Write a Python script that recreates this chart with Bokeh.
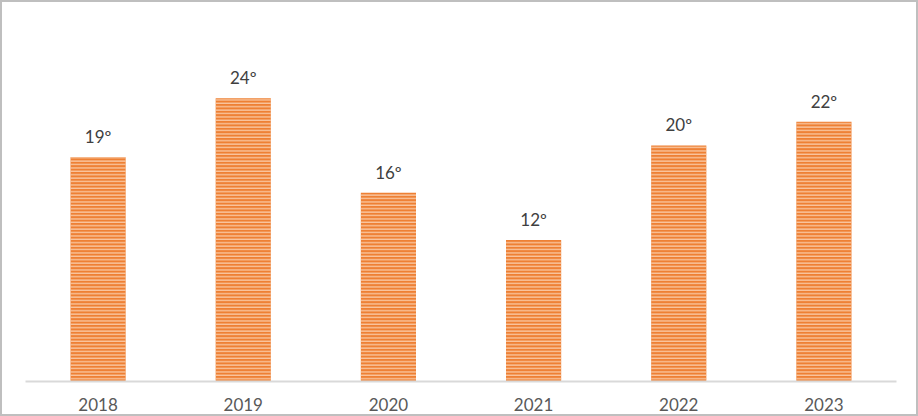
from bokeh.plotting import figure
from bokeh.models import ColumnDataSource, FactorRange, Range1d, LabelSet
from bokeh.core.properties import value
from bokeh.embed import file_html
from bokeh.resources import INLINE

years = ["2018", "2019", "2020", "2021", "2022", "2023"]
values = [19, 24, 16, 12, 20, 22]
labels = ["19º", "24º", "16º", "12º", "20º", "22º"]

src = ColumnDataSource(dict(x=years, top=values, label=labels))

p = figure(width=918, height=416, output_backend="svg", toolbar_location=None,
           x_range=FactorRange(*years, range_padding=0), y_range=Range1d(0, 31.86),
           min_border_left=23, min_border_right=24, min_border_top=3, min_border_bottom=37)
p.styles = {"border": "2px solid #BFBFBF", "box-sizing": "border-box", "overflow": "hidden"}
p.outline_line_color = None
p.background_fill_color = "white"
p.border_fill_color = "white"

p.vbar(x="x", top="top", width=0.38, source=src, fill_color="#EE8034", line_color=None,
       hatch_pattern="horizontal_line", hatch_color="#FBD0AE", hatch_scale=3.4, hatch_weight=1.2)

lab = LabelSet(x="x", y="top", text="label", source=src, text_align="center",
               text_baseline="bottom", y_offset=10, text_font=value("Lato"),
               text_font_size="17px", text_color="#404040")
p.add_layout(lab)

p.yaxis.visible = False
p.ygrid.visible = False
p.xgrid.visible = False
p.xaxis.axis_line_color = "#D9D9D9"
p.xaxis.axis_line_width = 2
p.xaxis.major_tick_line_color = None
p.xaxis.minor_tick_line_color = None
p.xaxis.major_label_text_font = "Lato"
p.xaxis.major_label_text_font_size = "17px"
p.xaxis.major_label_text_color = "#595959"
p.xaxis.major_label_standoff = 10

open("out.html", "w").write(file_html(p, INLINE))
